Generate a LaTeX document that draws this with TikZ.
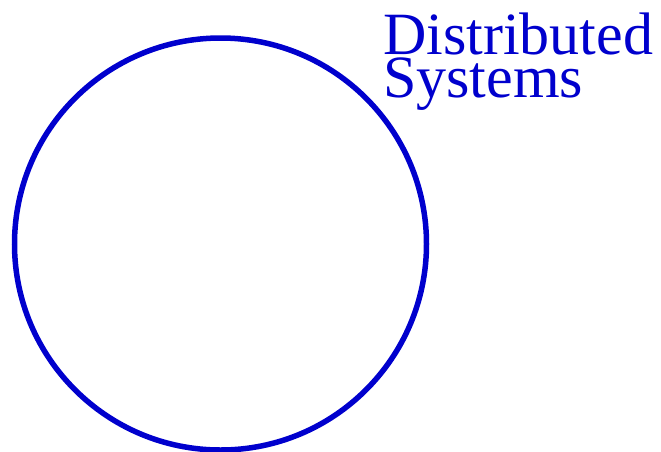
\documentclass[tikz,border=0pt]{standalone}
\usepackage{fontspec}
\setmainfont{Liberation Serif}
\definecolor{dsblue}{RGB}{0,0,205}
\begin{document}
\begin{tikzpicture}[x=1pt,y=-1pt]
\useasboundingbox (0,0) rectangle (661,451);
\node[draw=dsblue, line width=5.5pt, circle, minimum size=412pt, inner sep=0pt] (c) at (220.5,244) {};
\node[anchor=base west, inner sep=0pt, text=dsblue, font=\fontsize{60}{43}\selectfont, align=left] (t) at (383,97) {Distributed\\Systems};
\end{tikzpicture}
\end{document}
